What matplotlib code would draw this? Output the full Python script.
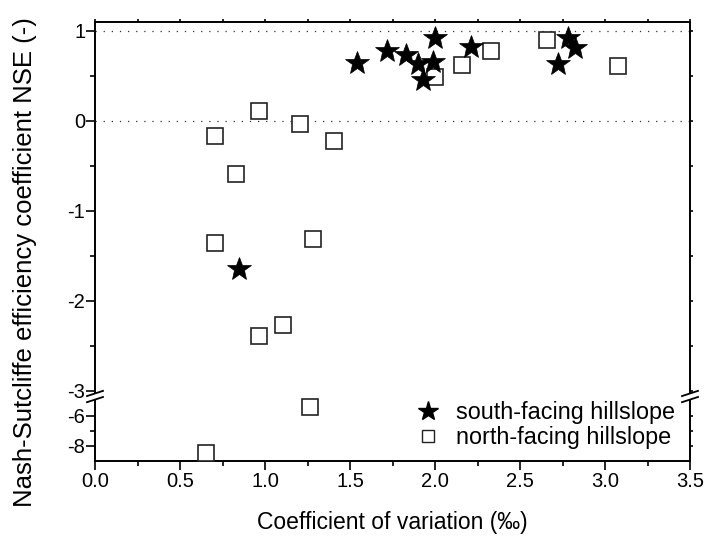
import numpy as np
import matplotlib
matplotlib.use("Agg")
import matplotlib.pyplot as plt
from matplotlib.lines import Line2D
from matplotlib.patches import Polygon

plt.rcParams['font.family'] = ['Liberation Sans', 'DejaVu Sans']

# --- data ---
south_x = [1.54, 1.72, 1.83, 1.90, 2.00, 1.99, 1.93, 2.21, 2.78, 2.825, 2.725, 0.845]
south_y = [0.64, 0.78, 0.73, 0.63, 0.92, 0.66, 0.46, 0.82, 0.92, 0.81, 0.63, -1.65]
north_x = [0.966, 0.708, 0.83, 1.206, 1.408, 0.708, 1.284, 0.966, 1.108, 1.265, 0.65,
           2.0, 2.159, 2.327, 2.657, 3.076]
north_y = [0.11, -0.165, -0.585, -0.03, -0.225, -1.36, -1.315, -2.395, -2.265, -5.42, -8.5,
           0.49, 0.625, 0.78, 0.905, 0.61]
x_ticks = [0.0, 0.5, 1.0, 1.5, 2.0, 2.5, 3.0, 3.5]
y_ticks = [1, 0, -1, -2, -3, -6, -8]
y_minor = [0.5, -0.5, -1.5, -2.5, -7]
labels = ['south-facing hillslope', 'north-facing hillslope']

# broken-axis scale
B1, B2 = -3.0, -5.0
G = 0.1088   # gap (in upper-segment units)
K = 0.168    # compression of lower segment

def fwd(y):
    y = np.asarray(y, dtype=float)
    return np.where(y >= B1, y,
           np.where(y >= B2, B1 + (y - B1) * G / (B1 - B2),
                    B1 - G + (y - B2) * K))

def inv(v):
    v = np.asarray(v, dtype=float)
    return np.where(v >= B1, v,
           np.where(v >= B1 - G, B1 + (v - B1) * (B1 - B2) / G,
                    B2 + (v - (B1 - G)) / K))

fig = plt.figure(figsize=(7.07, 5.36), dpi=100)
ax = fig.add_axes([95/707, 1 - 461/536, 595/707, (461 - 22)/536])
ax.set_yscale('function', functions=(fwd, inv))
YMIN, YMAX = -9.0, 1.1
ax.set_xlim(0, 3.5)
ax.set_ylim(YMIN, YMAX)

for yv in [0, 1]:
    ax.axhline(yv, color='#333333', lw=0.9, ls=(0, (1, 5.5)), zorder=1)

ax.plot(north_x, north_y, ls='none', marker='s', ms=11.5, mfc='white', mec='#222222',
        mew=1.2, label=labels[1], zorder=3, clip_on=False)
ax.plot(south_x, south_y, ls='none', marker='*', ms=18, mfc='black', mec='black',
        mew=0.5, label=labels[0], zorder=4)

ax.set_xticks(x_ticks)
ax.set_xticklabels([f"{v:.1f}" for v in x_ticks])
ax.set_xticks(np.arange(0.25, 3.5, 0.5), minor=True)
ax.set_yticks(y_ticks)
ax.set_yticklabels([str(v) for v in y_ticks])
ax.set_yticks(y_minor, minor=True)

ax.tick_params(axis='both', which='major', direction='out', length=6.5, width=1.2,
               labelsize=14.5)
ax.tick_params(axis='both', which='minor', direction='out', length=3.5, width=1.2)
ax.tick_params(axis='y', which='major', pad=0.5)
ax.tick_params(axis='x', which='major', pad=1.5)
ax.tick_params(top=True, right=True, which='both', labeltop=False, labelright=False)
for t in ax.xaxis.get_major_ticks() + ax.xaxis.get_minor_ticks():
    t.tick2line.set_markersize(2)
for t in ax.yaxis.get_major_ticks() + ax.yaxis.get_minor_ticks():
    t.tick2line.set_markersize(2)
for sp in ax.spines.values():
    sp.set_linewidth(1.4)

ax.set_xlabel('Coefficient of variation (‰)', fontsize=16.5)
ax.xaxis.set_label_coords(0.5, -0.113)
ax.set_ylabel('Nash-Sutcliffe efficiency coefficient NSE (-)', fontsize=18.5)
ax.yaxis.set_label_coords(-0.098, 0.454)

# legend
h_s = Line2D([], [], ls='none', marker='*', ms=15, color='black')
h_n = Line2D([], [], ls='none', marker='s', ms=9, mfc='white', mec='#222222', mew=1.0)
ax.legend([h_s, h_n], labels, loc='lower right', frameon=False, fontsize=16.8,
          handletextpad=0.7, labelspacing=0.1, borderaxespad=0.0, handlelength=1.0,
          bbox_to_anchor=(0.99, 0.005))

# break marks
lo, hi = float(fwd(YMIN)), float(fwd(YMAX))
def frac(v):
    return (v - lo) / (hi - lo)
ah = 461 - 22
aw = 595
dy_px = 2.6
dx_px = 8.0
y_up = frac(-3.03)
y_dn = frac(-3.098)
for xs in [0.0, 1.0]:
    dx = dx_px / aw
    dy = dy_px / ah
    poly = Polygon([[xs - dx, y_up - dy], [xs + dx, y_up + dy],
                    [xs + dx, y_dn + dy], [xs - dx, y_dn - dy]],
                   closed=True, transform=ax.transAxes, facecolor='white',
                   edgecolor='none', clip_on=False, zorder=10)
    ax.add_patch(poly)
    for yy in [y_up, y_dn]:
        ax.add_line(Line2D([xs - dx, xs + dx], [yy - dy, yy + dy], transform=ax.transAxes,
                           color='black', lw=1.3, clip_on=False, zorder=11))

fig.savefig('out.png', dpi=100)
